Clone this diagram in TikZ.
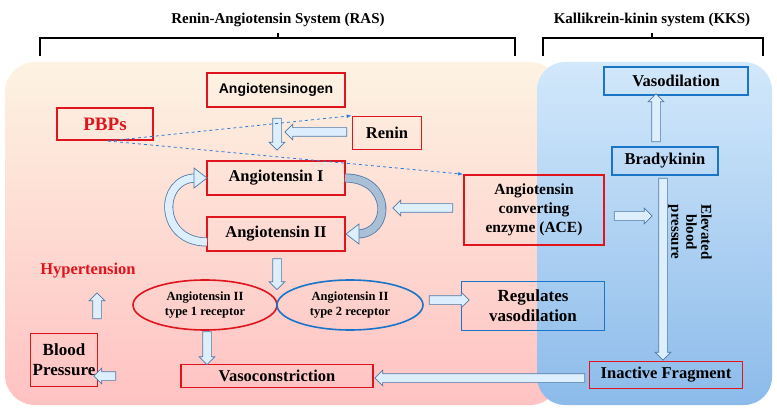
\documentclass[tikz,border=0pt]{standalone}
\usepackage{fontspec}
\setmainfont{Liberation Serif}
\newfontfamily\sansf{Liberation Sans}
\usetikzlibrary{shapes.geometric,shapes.arrows,arrows.meta}
\definecolor{rbox}{HTML}{E0141C}
\definecolor{bbox}{HTML}{1A75C9}
\definecolor{afill}{HTML}{DDEFFC}
\definecolor{aline}{HTML}{4F79A8}
\definecolor{band}{HTML}{A9BFD6}
\definecolor{dashcol}{HTML}{2F7BDB}
\definecolor{creamtop}{HTML}{FDF3E2}
\definecolor{pinkbot}{HTML}{FFC2C2}
\definecolor{bluetop}{HTML}{D2E8FB}
\definecolor{bluebot}{HTML}{8CBBEA}
\begin{document}
\begin{tikzpicture}[x=1pt,y=-1pt,
 bx/.style={draw=rbox,line width=1.6pt,inner sep=2pt,font=\bfseries\fontsize{16.5}{18}\selectfont,align=center},
 bbx/.style={bx,draw=bbox},
 barrow/.style={single arrow,draw=aline,fill=afill,line width=0.7pt,inner sep=4pt,single arrow head extend=3.5pt,single arrow head indent=0pt,minimum height=#1,anchor=center},
 ttl/.style={font=\bfseries\fontsize{15}{16}\selectfont},
 brk/.style={line width=1.3pt},
 dsh/.style={draw=dashcol,dashed,line width=0.8pt,-{Latex[length=5pt]}}]
\useasboundingbox (0,0) rectangle (777,417);
% panels
\shade[top color=creamtop,bottom color=pinkbot,rounded corners=30pt] (5,62) rectangle (560,405);
\shade[top color=bluetop,bottom color=bluebot,rounded corners=28pt] (537,62) rectangle (772,405);
% titles
\node[ttl] (t1) at (278,20) {Renin-Angiotensin System (RAS)};
\node[ttl] (t2) at (652,20) {Kallikrein-kinin system (KKS)};
\draw[brk] (40,56) -- (40,38) -- (515,38) -- (515,56);
\draw[brk] (278,38) -- (278,33);
\draw[brk] (543,56) -- (543,38) -- (763,38) -- (763,56);
\draw[brk] (652,38) -- (652,33);
% boxes
\node[bx,minimum width=138,minimum height=34,font=\sansf\bfseries\fontsize{14}{16}\selectfont] (agn) at (276,90) {Angiotensinogen};
\node[bx,minimum width=96,minimum height=32,text=rbox,font=\bfseries\fontsize{19}{20}\selectfont] (pbp) at (105,124) {PBPs};
\node[bx,minimum width=69,minimum height=33] (ren) at (387,133) {Renin};
\node[bx,minimum width=138,minimum height=34] (a1) at (276,178) {Angiotensin I};
\node[bx,minimum width=138,minimum height=34] (a2) at (276,234) {Angiotensin II};
\node[bx,minimum width=140,minimum height=70,font=\bfseries\fontsize{15.5}{19}\selectfont] (ace) at (534,210) {Angiotensin\\converting\\enzyme (ACE)};
\node[bbx,minimum width=144,minimum height=28] (vd) at (676,81) {Vasodilation};
\node[bbx,minimum width=106,minimum height=28] (bk) at (665,161) {Bradykinin};
\node[bx,minimum width=153,minimum height=27] (inf) at (666,375) {Inactive Fragment};
\node[bbx,minimum width=143,minimum height=49,font=\bfseries\fontsize{17}{20}\selectfont] (rv) at (533,306) {Regulates\\vasodilation};
\node[bx,minimum width=63,minimum height=53,font=\bfseries\fontsize{17}{20}\selectfont] (bp) at (64,360) {Blood\\Pressure};
\node[bx,minimum width=192,minimum height=23] (vc) at (277,376) {Vasoconstriction};
\node[text=rbox,font=\bfseries\fontsize{16.5}{18}\selectfont] (ht) at (88,271) {Hypertension};
\node[draw=rbox,line width=1.6pt,ellipse,minimum width=144,minimum height=50,inner sep=0pt,align=center,font=\bfseries\fontsize{12.5}{15}\selectfont] (r1) at (205,305) {Angiotensin II\\type 1 receptor};
\node[draw=bbox,line width=1.6pt,ellipse,minimum width=146,minimum height=50,inner sep=0pt,align=center,font=\bfseries\fontsize{12.5}{15}\selectfont] (r2) at (350,305) {Angiotensin II\\type 2 receptor};
\node[rotate=-90,align=center,font=\bfseries\fontsize{15}{15}\selectfont] (ebp) at (690,232) {Elevated\\blood\\pressure};
% block arrows
\node[barrow=32,rotate=-90] (ar1) at (277,132) {};
\node[barrow=62,rotate=180] (ar2) at (318,132) {};
\node[barrow=60,rotate=180] (ar3) at (425,208) {};
\node[barrow=38] (ar4) at (631,216) {};
\node[barrow=31,rotate=-90] (ar5) at (277,272) {};
\node[barrow=40] (ar6) at (447,300) {};
\node[barrow=33,rotate=-90] (ar7) at (207,346) {};
\node[barrow=26,rotate=90] (ar8) at (97,308) {};
\node[barrow=22,rotate=180] (ar9) at (107,376) {};
\node[barrow=210,rotate=180] (ar10) at (482,378) {};
\node[barrow=48,rotate=90] (ar11) at (656,120) {};
\node[barrow=182,rotate=-90] (ar12) at (663,267) {};
% curved band arrows
\draw[line width=9pt,aline] (207,242) .. controls (158,242) and (158,178) .. (196,178);
\draw[line width=7.4pt,afill] (207,242) .. controls (158,242) and (158,178) .. (196,178);
\filldraw[fill=afill,draw=aline,line width=0.7pt] (194,168) -- (207,178) -- (194,188) -- cycle;
\draw[line width=9pt,aline] (345,178) .. controls (392,178) and (392,234) .. (357,234);
\draw[line width=7.4pt,band] (345,178) .. controls (392,178) and (392,234) .. (357,234);
\filldraw[fill=afill,draw=aline,line width=0.7pt] (359,224) -- (346,234) -- (359,244) -- cycle;
% dashed
\coordinate (ps) at (108,141);
\draw[dsh] (ps) -- (ren.north west);
\draw[dsh] (ps) -- (ace.north west);
\end{tikzpicture}
\end{document}
